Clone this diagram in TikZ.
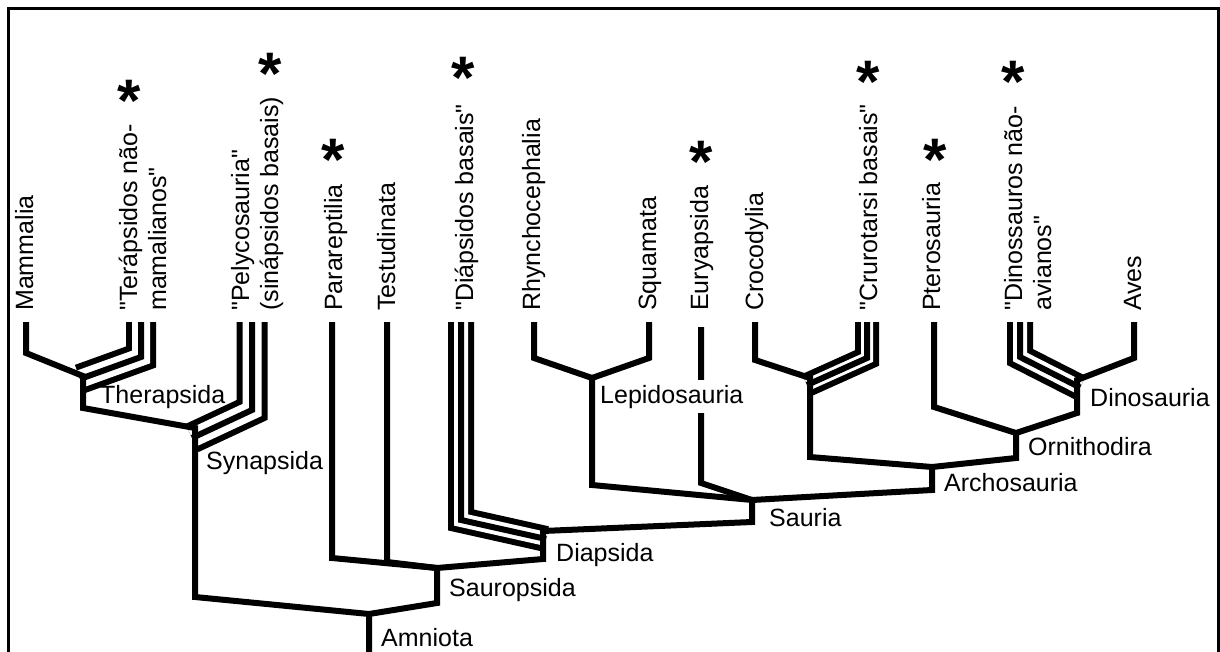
\documentclass[tikz,border=0pt]{standalone}
\usepackage{fontspec}
\setmainfont{Liberation Sans}[Ligatures=TeXOff]
\begin{document}
\begin{tikzpicture}[x=1pt, y=-1pt, line join=miter,
    branch/.style={line width=6pt},
    ribbon/.style 2 args={draw=white, line width=#2,
      preaction={draw=black, line width=#1},
      postaction={draw=black, line width=6pt}},
    taxon/.style={rotate=90, anchor=base west, inner sep=0pt, align=left,
      font=\fontsize{25}{29}\selectfont},
    clade/.style={anchor=base west, inner xsep=1pt, inner ysep=5pt,
      font=\fontsize{25}{29}\selectfont},
    star/.style={anchor=base, inner sep=0pt, font=\fontsize{60}{60}\selectfont\bfseries}]
  \useasboundingbox (0,0) rectangle (1220,652);
  % Frame
  \draw[line width=3pt] (8,662) |- (1218,9) -- (1218,662);
  % Branch points
  \coordinate (ther) at (83,376);
  \coordinate (syn)  at (195,428);
  \coordinate (amn)  at (369,614);
  \coordinate (saur) at (437,568);
  \coordinate (diap) at (543,531);
  \coordinate (sau)  at (752,500);
  \coordinate (lep)  at (592,378);
  \coordinate (arch) at (932,467);
  \coordinate (crur) at (810,378);
  \coordinate (orn)  at (1016,433);
  \coordinate (dino) at (1077,380);
  % Tips
  \coordinate (tMam) at (26,322);
  \coordinate (tTer) at (141,322);
  \coordinate (tPel) at (252,322);
  \coordinate (tPar) at (332,322);
  \coordinate (tTes) at (387,322);
  \coordinate (tDia) at (461,322);
  \coordinate (tRhy) at (534,322);
  \coordinate (tSqu) at (649,322);
  \coordinate (tEur) at (701,327);
  \coordinate (tCro) at (755,322);
  \coordinate (tCru) at (867,322);
  \coordinate (tPte) at (934,322);
  \coordinate (tDin) at (1020,322);
  \coordinate (tAve) at (1134,322);
  % Paraphyletic groups (triple lines)
  \draw[ribbon={30pt}{18pt}] (tTer) -- ++(0,35) -- ([shift={(-3,3)}]ther);
  \draw[ribbon={31pt}{19pt}] (tPel) -- ++(0,88) -- ([shift={(-3,10)}]syn);
  \draw[ribbon={26pt}{14pt}] (tDia) -- ++(0,198) -- ([shift={(3,8)}]diap);
  \draw[ribbon={24pt}{12pt}] (tCru) -- ++(0,36) -- ([shift={(-3,7)}]crur);
  \draw[ribbon={26pt}{14pt}] (tDin) -- ++(0,35) -- ([shift={(3,7.5)}]dino);
  % Branches
  \draw[branch] (tMam) -- ++(0,31) -- (ther) -- ++(0,32) -- (syn) -- ++(0,169) -- (amn) -- ++(0,50);
  \draw[branch] (tPar) -- ++(0,236) -- (saur) -- ++(0,35) -- (amn);
  \draw[branch] (tTes) -- ++(0,240) -- (saur);
  \draw[branch] (tRhy) -- ++(0,36) -- (lep) -- ++(0,107) -- (sau) -- ++(0,22) -- (diap) -- ++(0,28) -- (saur);
  \draw[branch] (tSqu) -- ++(0,36) -- (lep);
  \draw[branch] (tEur) -- ++(0,156) -- (sau);
  \draw[branch] (tCro) -- ++(0,38) -- (crur) -- ++(0,79) -- (arch) -- ++(0,23) -- (sau);
  \draw[branch] (tPte) -- ++(0,85) -- (orn) -- ++(0,25) -- (arch);
  \draw[branch] (tAve) -- ++(0,36) -- (dino) -- ++(0,33) -- (orn);
  % Terminal taxa
  \node[taxon] (lMam) at (33,311)   {Mammalia};
  \node[taxon] (lTer) at (166,311)  {"Terápsidos não-\\mamalianos"};
  \node[taxon] (lPel) at (278,311)  {"Pelycosauria"\\(sinápsidos basais)};
  \node[taxon] (lPar) at (342,311)  {Parareptilia};
  \node[taxon] (lTes) at (395,311)  {Testudinata};
  \node[taxon] (lDia) at (473,311)  {"Diápsidos basais"};
  \node[taxon] (lRhy) at (540,311)  {Rhynchocephalia};
  \node[taxon] (lSqu) at (656,311)  {Squamata};
  \node[taxon] (lEur) at (708,311)  {Euryapsida};
  \node[taxon] (lCro) at (763,311)  {Crocodylia};
  \node[taxon] (lCru) at (877,311)  {"Crurotarsi basais"};
  \node[taxon] (lPte) at (940,311)  {Pterosauria};
  \node[taxon] (lDin) at (1051,311) {"Dinossauros não-\\avianos"};
  \node[taxon] (lAve) at (1141,311) {Aves};
  % Extinct groups
  \node[star] (sTer) at (129,122)  {*};
  \node[star] (sPel) at (270,95)   {*};
  \node[star] (sPar) at (333,181)  {*};
  \node[star] (sDia) at (463,99)   {*};
  \node[star] (sEur) at (701,183)  {*};
  \node[star] (sCru) at (868,103)  {*};
  \node[star] (sPte) at (935,181)  {*};
  \node[star] (sDin) at (1013,103) {*};
  % Clade names
  \node[clade] (cTher) at (99,403)   {Therapsida};
  \node[clade] (cSyn)  at (205,469)  {Synapsida};
  \node[clade] (cSaur) at (448,596)  {Sauropsida};
  \node[clade] (cAmn)  at (380,646)  {Amniota};
  \node[clade] (cDiap) at (555,561)  {Diapsida};
  \node[clade] (cSau)  at (768,526)  {Sauria};
  \node[clade, fill=white] (cLep) at (599,403) {Lepidosauria};
  \node[clade] (cArch) at (943,491)  {Archosauria};
  \node[clade] (cOrn)  at (1027,455) {Ornithodira};
  \node[clade] (cDino) at (1089,406) {Dinosauria};
\end{tikzpicture}
\end{document}
